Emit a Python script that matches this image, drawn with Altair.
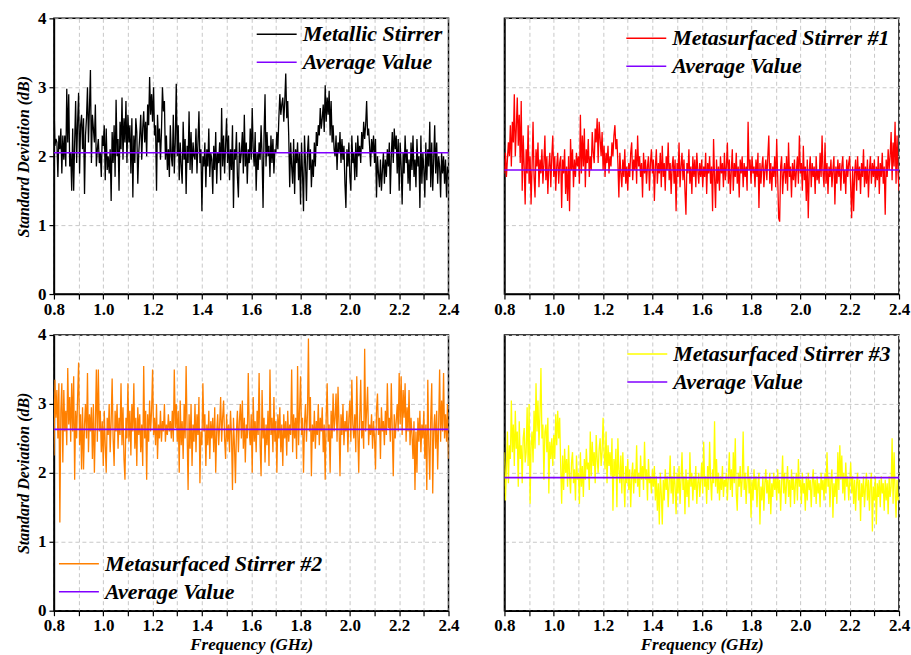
import altair as alt
import pandas as pd

# Frequency sweep: 0.8 GHz to 2.4 GHz, 401 samples (4 MHz step)
F_START, F_STEP, N_PTS = 0.8, 0.004, 401
FREQ = [round(F_START + F_STEP * i, 3) for i in range(N_PTS)]

# Standard deviation of the received power (dB); one row per 100 MHz, last value at 2.4 GHz
METALLIC = [
    2.80, 2.15, 2.25, 2.20, 1.70, 2.30, 2.10, 2.40, 1.75, 2.30, 1.95, 2.30, 1.85, 2.98, 2.20, 2.90, 1.85, 2.05, 1.50, 2.40, 1.50, 2.20, 2.80, 1.90, 2.50,
    2.92, 1.75, 2.45, 2.60, 2.10, 2.55, 1.45, 2.30, 2.55, 3.00, 2.20, 2.70, 3.25, 1.90, 2.60, 2.40, 2.20, 2.75, 1.85, 2.10, 2.25, 1.90, 2.05, 1.70, 2.30,
    2.15, 2.45, 1.65, 2.40, 1.80, 2.00, 1.75, 2.10, 1.35, 2.35, 1.90, 2.45, 1.70, 2.82, 2.00, 2.25, 1.50, 2.50, 2.10, 2.85, 1.95, 2.55, 2.20, 2.80, 1.90,
    2.60, 2.20, 2.45, 1.75, 2.55, 1.40, 2.30, 1.90, 2.55, 2.35, 1.60, 2.05, 2.30, 2.60, 1.95, 2.40, 2.65, 2.20, 2.50, 2.00, 2.75, 2.45, 3.15, 2.60, 2.90,
    2.50, 3.00, 2.30, 2.45, 1.50, 2.60, 2.20, 2.40, 1.95, 2.35, 3.00, 2.65, 2.80, 1.95, 2.30, 1.80, 2.10, 1.70, 2.45, 2.00, 1.85, 2.60, 1.75, 2.20, 3.05,
    2.00, 2.45, 1.65, 2.20, 1.85, 1.60, 2.50, 1.95, 2.25, 1.45, 2.15, 1.90, 2.65, 1.80, 2.35, 1.75, 2.20, 2.00, 1.95, 2.40, 1.75, 2.20, 2.65, 1.90, 2.10,
    1.20, 2.00, 1.85, 2.20, 1.55, 2.10, 1.85, 2.40, 1.70, 2.05, 1.95, 1.45, 2.15, 1.80, 2.35, 1.60, 2.05, 1.90, 2.20, 1.65, 2.70, 1.85, 2.30, 1.75, 2.15,
    2.55, 1.90, 2.30, 1.65, 2.10, 1.80, 2.45, 1.25, 2.10, 1.95, 2.35, 1.70, 1.40, 2.20, 1.90, 2.05, 2.35, 1.75, 2.60, 1.85, 2.20, 1.60, 2.10, 1.90, 2.40,
    1.95, 2.70, 2.10, 1.85, 2.35, 1.50, 2.05, 1.80, 2.20, 1.95, 2.45, 2.00, 1.25, 2.30, 2.90, 1.85, 2.35, 2.00, 2.15, 1.70, 2.30, 1.90, 2.25, 1.75, 2.10,
    2.05, 2.35, 2.10, 2.55, 2.90, 2.60, 2.75, 2.85, 2.50, 2.80, 3.20, 2.55, 2.80, 2.30, 1.55, 2.20, 1.85, 1.60, 2.25, 1.45, 2.10, 1.90, 2.20, 1.65, 2.05,
    1.30, 2.20, 1.75, 1.20, 2.30, 1.90, 1.35, 2.05, 2.30, 1.80, 2.10, 1.55, 1.95, 1.70, 2.20, 1.85, 2.35, 2.15, 2.45, 2.30, 2.70, 2.40, 2.55, 2.75, 2.35,
    3.03, 2.50, 2.85, 2.60, 2.95, 2.30, 2.80, 2.20, 2.45, 2.10, 2.00, 2.30, 1.80, 2.20, 2.05, 2.35, 1.90, 2.25, 1.95, 2.15, 1.60, 1.25, 2.10, 1.85, 2.20,
    1.70, 1.50, 2.30, 1.90, 2.05, 1.65, 2.20, 1.70, 2.30, 2.00, 2.15, 1.90, 2.35, 2.10, 2.50, 2.25, 2.45, 2.80, 2.30, 2.40, 2.15, 1.85, 2.25, 2.05, 2.30,
    1.90, 2.25, 1.40, 2.00, 1.75, 1.55, 1.95, 1.50, 1.80, 2.05, 1.60, 1.95, 1.70, 2.10, 1.85, 2.20, 1.45, 2.00, 2.35, 1.90, 2.40, 2.10, 2.30, 1.75, 2.25,
    1.50, 2.20, 1.85, 1.30, 2.05, 1.75, 2.30, 1.90, 2.10, 1.60, 1.95, 1.50, 2.20, 1.80, 2.30, 1.70, 1.95, 1.55, 2.25, 1.85, 2.00, 1.25, 2.30, 1.60, 2.05,
    1.80, 1.40, 2.20, 1.65, 2.10, 1.85, 2.50, 1.55, 2.20, 1.50, 1.95, 2.45, 1.75, 2.20, 1.60, 2.00, 1.85, 1.40, 2.05, 1.75, 2.00, 1.60, 1.95, 1.40, 1.85,
    1.75,
]
META_1 = [
    1.75, 2.05, 1.70, 1.95, 2.20, 2.00, 2.45, 1.85, 2.50, 2.20, 2.90, 2.00, 2.40, 2.85, 2.15, 2.60, 1.90, 2.80, 1.50, 2.30, 1.85, 1.30, 2.10, 1.75, 2.45,
    1.60, 2.00, 1.30, 1.85, 2.50, 1.70, 1.40, 2.10, 1.85, 2.20, 1.55, 1.95, 1.75, 2.10, 1.60, 1.90, 2.30, 1.65, 2.00, 1.45, 1.85, 2.05, 1.55, 2.00, 2.30,
    1.70, 2.00, 1.50, 1.85, 2.05, 1.60, 1.90, 2.00, 1.25, 1.95, 1.75, 2.10, 1.45, 1.85, 1.35, 2.00, 1.20, 2.25, 1.80, 2.10, 1.55, 1.95, 1.70, 2.05, 1.85,
    2.00, 1.60, 2.60, 1.75, 2.30, 1.85, 2.40, 1.55, 2.10, 1.90, 2.25, 1.70, 2.00, 1.80, 2.35, 2.05, 1.90, 2.40, 2.20, 2.55, 1.90, 2.50, 2.25, 2.00, 2.35,
    1.80, 2.15, 1.70, 2.05, 1.90, 2.15, 1.75, 2.00, 1.85, 2.20, 2.00, 2.30, 2.45, 2.10, 2.25, 1.90, 1.40, 2.05, 1.75, 1.55, 1.95, 1.70, 2.10, 1.60, 1.85,
    1.50, 1.90, 1.70, 2.05, 2.20, 1.65, 1.95, 1.80, 2.10, 1.60, 2.30, 1.85, 2.00, 1.70, 1.90, 1.40, 2.05, 1.75, 1.95, 1.60, 1.85, 2.00, 1.50, 1.90, 2.10,
    1.75, 1.95, 1.35, 1.85, 2.10, 1.60, 1.90, 1.75, 2.05, 1.55, 2.15, 1.70, 1.90, 1.50, 2.00, 1.80, 2.20, 1.65, 1.90, 1.45, 1.85, 2.00, 1.60, 1.95, 1.20,
    1.90, 1.70, 2.20, 1.55, 1.85, 2.05, 1.65, 1.95, 1.50, 1.15, 1.90, 1.75, 2.10, 1.60, 1.85, 1.45, 2.00, 1.70, 1.95, 1.55, 2.05, 1.80, 1.60, 1.90, 1.70,
    1.95, 1.55, 1.85, 1.70, 2.05, 1.45, 1.90, 1.75, 2.00, 1.60, 1.85, 1.20, 2.25, 1.70, 1.25, 1.95, 1.60, 1.85, 1.50, 2.00, 1.75, 1.90, 1.55, 2.05, 1.65,
    1.85, 2.20, 1.60, 1.95, 1.45, 1.80, 2.10, 1.50, 1.90, 1.70, 2.05, 1.60, 1.85, 1.40, 1.95, 1.75, 2.00, 1.55, 1.90, 1.70, 1.85, 1.50, 2.50, 1.80, 1.95,
    1.60, 2.00, 1.75, 1.85, 1.55, 1.95, 1.70, 2.05, 1.25, 1.90, 1.60, 1.85, 2.00, 1.55, 1.80, 1.95, 1.65, 2.00, 2.30, 1.60, 1.90, 1.50, 1.85, 1.70, 2.00,
    1.55, 2.25, 1.70, 1.10, 1.05, 1.85, 2.00, 1.45, 1.75, 1.90, 1.60, 2.00, 1.50, 2.20, 1.70, 1.85, 1.40, 1.90, 1.65, 1.95, 1.55, 1.80, 2.00, 1.60, 2.30,
    1.75, 1.90, 1.50, 2.15, 1.65, 1.85, 1.35, 1.95, 1.10, 1.80, 2.00, 1.55, 1.90, 1.70, 1.85, 1.45, 2.00, 1.65, 1.80, 1.60, 2.05, 1.70, 2.30, 1.75, 1.55,
    2.20, 1.60, 1.90, 1.45, 1.85, 1.70, 1.95, 1.55, 1.80, 2.00, 1.30, 1.85, 1.60, 1.95, 1.70, 1.90, 1.50, 1.85, 2.00, 1.60, 1.80, 1.45, 1.95, 1.70, 1.90,
    2.00, 1.55, 1.10, 1.85, 1.20, 1.75, 1.95, 1.50, 2.00, 1.65, 1.85, 1.45, 1.90, 1.70, 2.10, 1.55, 1.85, 1.60, 1.95, 1.40, 1.80, 2.00, 1.60, 1.90, 1.70,
    1.95, 1.55, 1.85, 1.65, 2.00, 1.45, 1.90, 1.70, 2.05, 1.60, 1.85, 1.15, 1.95, 1.70, 2.10, 1.80, 2.00, 2.35, 1.65, 2.20, 1.85, 2.50, 1.60, 2.30, 1.75,
    1.50,
]
META_2 = [
    2.25, 3.35, 2.80, 3.20, 2.50, 3.30, 1.28, 2.90, 3.30, 2.15, 3.20, 2.60, 2.90, 2.40, 3.52, 2.70, 3.10, 2.45, 3.30, 2.60, 3.40, 1.90, 2.90, 2.50, 3.10,
    3.60, 2.40, 2.85, 2.05, 2.95, 2.05, 2.70, 3.00, 2.50, 3.45, 2.30, 2.85, 2.60, 2.95, 2.20, 3.00, 2.00, 2.70, 3.50, 2.45, 3.50, 2.60, 2.90, 2.30, 2.75,
    2.10, 2.90, 2.40, 2.00, 2.80, 2.55, 3.00, 2.30, 2.75, 3.37, 2.50, 2.10, 2.90, 2.60, 3.00, 2.35, 2.80, 2.55, 3.30, 2.40, 2.95, 2.20, 1.90, 2.80, 2.50,
    3.30, 2.45, 2.90, 2.25, 3.00, 2.60, 3.30, 2.35, 2.80, 2.10, 2.95, 2.55, 2.85, 2.30, 2.70, 2.10, 3.55, 2.50, 2.90, 1.90, 2.85, 2.45, 3.05, 2.60, 2.90,
    3.50, 2.55, 2.80, 2.40, 3.00, 2.20, 2.70, 2.50, 2.90, 2.45, 2.75, 2.60, 3.00, 2.45, 2.70, 2.55, 2.85, 2.60, 2.75, 2.50, 2.90, 2.45, 3.50, 2.65, 3.00,
    2.45, 2.90, 2.00, 3.05, 2.40, 2.75, 2.20, 3.00, 2.50, 3.55, 2.60, 1.75, 2.85, 2.35, 3.00, 2.10, 2.70, 2.45, 3.00, 2.30, 2.85, 2.55, 3.10, 1.85, 2.60,
    2.40, 3.30, 2.60, 2.85, 2.10, 2.70, 2.40, 2.90, 2.20, 2.75, 2.50, 2.80, 2.30, 2.95, 2.00, 2.60, 2.85, 2.40, 2.70, 3.10, 2.45, 2.80, 3.05, 2.50, 2.20,
    2.85, 2.45, 2.70, 2.30, 2.90, 2.55, 1.75, 2.80, 2.40, 1.85, 2.60, 2.90, 2.30, 2.75, 3.00, 2.50, 3.05, 2.35, 2.80, 2.15, 2.70, 2.50, 3.45, 2.60, 2.40,
    2.85, 2.00, 3.10, 2.45, 2.75, 2.30, 2.90, 2.55, 3.45, 2.40, 1.95, 3.20, 2.50, 2.80, 2.15, 2.70, 2.40, 2.90, 2.10, 3.50, 2.55, 2.80, 2.30, 3.10, 2.45,
    2.75, 2.00, 2.85, 2.50, 2.95, 2.30, 2.70, 2.10, 2.85, 2.50, 2.75, 2.25, 2.90, 2.45, 2.70, 2.55, 3.50, 2.30, 2.85, 2.50, 2.80, 2.20, 3.55, 2.40, 2.90,
    3.40, 2.55, 2.80, 2.00, 2.70, 3.00, 2.45, 2.85, 3.95, 2.60, 3.10, 1.95, 2.70, 2.45, 2.90, 2.35, 2.75, 2.55, 3.00, 2.40, 2.80, 2.60, 2.95, 2.30, 2.70,
    1.90, 2.80, 3.30, 2.45, 2.70, 2.00, 2.90, 2.50, 3.15, 2.60, 2.80, 3.15, 2.45, 3.25, 2.70, 1.95, 2.85, 2.55, 3.00, 2.40, 2.75, 2.60, 2.90, 2.30, 2.80,
    3.05, 2.45, 3.35, 2.70, 2.50, 2.85, 2.30, 3.40, 2.60, 2.00, 2.80, 3.35, 2.50, 2.75, 2.35, 3.80, 2.60, 2.90, 3.25, 2.40, 2.70, 2.55, 2.85, 2.35, 2.75,
    2.50, 2.05, 2.90, 3.15, 2.55, 2.80, 2.20, 2.95, 2.60, 2.75, 2.40, 2.90, 2.55, 3.30, 2.65, 2.80, 2.45, 3.30, 2.60, 1.95, 2.85, 2.50, 2.75, 3.00, 2.60,
    3.45, 2.70, 3.40, 2.55, 3.20, 2.80, 3.30, 2.45, 2.95, 2.60, 3.20, 2.40, 2.80, 2.55, 2.20, 2.75, 1.75, 2.60, 2.00, 2.80, 2.45, 2.90, 2.30, 2.70, 2.50,
    2.90, 2.20, 2.70, 1.75, 3.35, 2.40, 1.90, 2.80, 3.30, 1.70, 2.60, 2.85, 2.35, 2.90, 2.05, 2.70, 3.50, 2.45, 3.05, 2.60, 3.45, 2.50, 2.85, 2.45, 3.00,
    2.20,
]
META_3 = [
    2.30, 1.60, 2.05, 2.60, 1.85, 2.40, 2.20, 3.05, 2.30, 2.70, 2.10, 2.90, 2.35, 2.60, 1.80, 2.75, 2.20, 2.40, 1.85, 2.50, 2.65, 2.15, 2.30, 2.95, 2.10,
    3.00, 1.55, 2.40, 2.60, 2.15, 2.90, 2.35, 3.30, 2.60, 3.05, 2.40, 2.85, 3.52, 2.50, 2.70, 1.90, 2.60, 2.70, 2.30, 2.80, 1.70, 2.45, 2.20, 2.50, 2.10,
    2.55, 2.20, 2.85, 2.40, 2.90, 2.50, 2.80, 2.10, 1.55, 2.25, 1.75, 2.35, 2.00, 2.20, 1.80, 2.40, 1.95, 1.70, 2.15, 2.30, 1.85, 2.05, 1.60, 2.25, 1.90,
    2.00, 1.55, 2.30, 1.80, 2.10, 1.65, 2.20, 1.90, 2.35, 2.05, 2.15, 1.75, 2.60, 1.95, 2.45, 2.10, 2.30, 1.85, 2.55, 2.20, 2.00, 2.35, 2.50, 2.10, 2.30,
    2.80, 2.30, 2.05, 2.60, 1.85, 2.40, 2.10, 2.30, 1.95, 2.50, 1.45, 2.20, 1.95, 2.35, 1.50, 2.50, 2.05, 1.85, 2.25, 1.70, 2.30, 1.90, 1.50, 2.10, 1.85,
    2.20, 1.75, 2.05, 1.50, 1.95, 2.15, 1.70, 2.05, 1.85, 2.40, 1.80, 2.00, 1.65, 2.25, 1.90, 2.10, 1.75, 2.45, 1.90, 2.05, 1.60, 2.20, 1.85, 1.95, 1.70,
    2.05, 1.80, 2.10, 1.60, 1.95, 1.45, 1.85, 1.25, 2.00, 1.70, 1.25, 1.90, 1.60, 2.05, 1.75, 1.95, 1.50, 1.85, 2.25, 1.70, 1.95, 1.55, 2.10, 1.80, 1.40,
    2.00, 1.70, 2.10, 1.55, 1.90, 2.30, 1.75, 1.95, 1.40, 2.05, 1.65, 1.90, 1.50, 2.30, 1.80, 2.00, 1.60, 1.95, 1.75, 2.10, 1.55, 1.85, 2.00, 1.65, 1.90,
    2.15, 1.70, 2.45, 1.80, 1.95, 1.55, 2.10, 1.75, 2.45, 1.90, 1.60, 2.05, 1.85, 2.75, 1.80, 2.20, 1.70, 2.00, 1.60, 1.95, 1.75, 2.10, 1.65, 1.90, 1.80,
    2.00, 1.60, 1.95, 2.30, 1.75, 2.05, 1.65, 2.30, 1.85, 2.50, 1.70, 1.45, 2.00, 1.80, 2.10, 1.65, 1.90, 2.60, 1.75, 2.00, 1.55, 1.90, 2.10, 1.70, 1.95,
    1.35, 1.90, 1.60, 2.05, 1.75, 1.95, 1.50, 1.85, 2.00, 1.25, 1.80, 1.60, 1.95, 1.45, 1.85, 2.05, 1.70, 1.90, 1.55, 2.00, 1.40, 1.85, 1.65, 2.00, 1.75,
    1.95, 1.60, 2.05, 1.70, 1.90, 1.45, 1.85, 2.25, 1.70, 2.00, 1.55, 1.85, 2.10, 1.65, 1.90, 1.50, 2.05, 1.75, 1.95, 1.55, 1.85, 2.00, 1.60, 2.20, 1.80,
    1.90, 1.55, 2.00, 1.70, 1.85, 1.45, 1.95, 1.60, 2.00, 1.75, 1.90, 1.50, 1.85, 2.05, 1.65, 1.90, 1.55, 1.95, 1.70, 1.85, 1.50, 2.00, 1.75, 1.90, 1.60,
    2.00, 1.70, 2.30, 1.80, 1.95, 1.50, 1.90, 2.05, 1.35, 1.85, 1.65, 1.95, 1.55, 2.30, 1.75, 2.40, 1.90, 2.25, 1.70, 2.00, 1.60, 2.15, 1.80, 1.95, 1.60,
    1.85, 2.15, 1.70, 1.95, 1.55, 1.90, 1.45, 1.85, 2.00, 1.60, 1.90, 1.30, 1.85, 1.65, 1.95, 1.50, 1.80, 2.00, 1.60, 1.90, 1.45, 1.85, 2.00, 1.15, 1.80,
    1.60, 1.95, 1.25, 1.85, 1.65, 1.90, 1.50, 1.95, 1.70, 1.85, 1.45, 1.90, 1.60, 1.85, 1.40, 1.95, 1.65, 1.80, 2.50, 1.55, 2.30, 1.75, 1.35, 1.90, 1.60,
    1.65,
]

SERIES_NAMES = ["Metallic Stirrer", "Metasurfaced Stirrer #1", "Metasurfaced Stirrer #2", "Metasurfaced Stirrer #3"]
SERIES_COLORS = ["#000000", "#ff0000", "#ff8000", "#ffff00"]
AVERAGES = [2.05, 1.80, 2.63, 1.93]
AVG_LABEL = "Average Value"
AVG_COLOR = "#8000ff"

X_TICKS = [0.8, 0.9, 1.0, 1.1, 1.2, 1.3, 1.4, 1.5, 1.6, 1.7, 1.8, 1.9, 2.0, 2.1, 2.2, 2.3, 2.4]
Y_TICKS = [0, 0.5, 1, 1.5, 2, 2.5, 3, 3.5, 4]

SERIF = "Liberation Serif, Times New Roman, serif"
GRID = dict(grid=True, gridColor="#c8c8c8", gridDash=[4, 3], gridWidth=1)

# Legend key: a horizontal stroke twice as wide as the nominal symbol box,
# so the entries stay compact while the key line is 40 px long.
KEY_PATH = "M-2,0H2"
KEY_SIZE = 400


def x_axis(with_title):
    return alt.Axis(
        values=X_TICKS,
        labelExpr="round(datum.value * 10) % 2 == 0 ? format(datum.value, '.1f') : ''",
        title="Frequency (GHz)" if with_title else None,
        titleFont=SERIF, titleFontSize=17, titleFontWeight="bold", titleFontStyle="italic",
        titleColor="black", titlePadding=3,
        labelFont=SERIF, labelFontSize=17, labelFontWeight="bold", labelColor="black",
        labelFlush=False, labelOverlap=False, labelPadding=2,
        tickColor="black", tickSize=5, tickWidth=1.2,
        domainColor="black", domainWidth=1.5,
        **GRID,
    )


def y_axis(with_labels):
    if with_labels:
        return alt.Axis(
            values=Y_TICKS,
            labelExpr="datum.value % 1 == 0 ? format(datum.value, 'd') : ''",
            title="Standard Deviation (dB)",
            titleFont=SERIF, titleFontSize=16, titleFontWeight="bold", titleFontStyle="italic",
            titleColor="black", titlePadding=6,
            labelFont=SERIF, labelFontSize=17, labelFontWeight="bold", labelColor="black",
            labelFlush=False, labelOverlap=False, labelPadding=3,
            tickColor="black", tickSize=5, tickWidth=1.2,
            domainColor="black", domainWidth=1.5,
            **GRID,
        )
    return alt.Axis(values=Y_TICKS, labels=False, ticks=False, title=None,
                    domainColor="black", domainWidth=1.5, **GRID)


def panel(values, name, color, avg, legend_xy, left, bottom):
    trace = pd.DataFrame({"freq": FREQ, "std": values, "series": name})
    mean = pd.DataFrame({"std": [avg], "series": [AVG_LABEL]})

    color_enc = alt.Color(
        "series:N",
        scale=alt.Scale(domain=[name, AVG_LABEL], range=[color, AVG_COLOR]),
        legend=alt.Legend(
            title=None, orient="none", legendX=legend_xy[0], legendY=legend_xy[1], padding=0,
            symbolType=KEY_PATH, symbolSize=KEY_SIZE, symbolStrokeWidth=1.6,
            labelFont=SERIF, labelFontSize=22, labelFontWeight="bold",
            labelFontStyle="italic", labelColor="black", labelLimit=400,
            labelOffset=15, rowPadding=6,
        ),
    )
    y_scale = alt.Scale(domain=[0, 4], nice=False, zero=False)

    line = alt.Chart(trace).mark_line(strokeWidth=1.3, clip=True).encode(
        x=alt.X("freq:Q", scale=alt.Scale(domain=[0.8, 2.4], nice=False, zero=False),
                axis=x_axis(bottom)),
        y=alt.Y("std:Q", scale=y_scale, axis=y_axis(left)),
        color=color_enc,
    )
    rule = alt.Chart(mean).mark_rule(strokeWidth=1.6).encode(
        y=alt.Y("std:Q", scale=y_scale),
        color=alt.Color("series:N"),
    )
    return alt.layer(line, rule).properties(width=395, height=276)


p1 = panel(METALLIC, SERIES_NAMES[0], SERIES_COLORS[0], AVERAGES[0], (212, 5), True, False)
p2 = panel(META_1, SERIES_NAMES[1], SERIES_COLORS[1], AVERAGES[1], (131, 9), False, False)
p3 = panel(META_2, SERIES_NAMES[2], SERIES_COLORS[2], AVERAGES[2], (14, 218), True, True)
p4 = panel(META_3, SERIES_NAMES[3], SERIES_COLORS[3], AVERAGES[3], (132, 8), False, True)

top = alt.hconcat(p1, p2, spacing=32).resolve_scale(color="independent").resolve_legend(color="independent")
bottom = alt.hconcat(p3, p4, spacing=32).resolve_scale(color="independent").resolve_legend(color="independent")

chart = (
    alt.vconcat(top, bottom, spacing=7)
    .resolve_scale(color="independent")
    .resolve_legend(color="independent")
    .properties(padding={"left": 14, "top": 8, "right": 0, "bottom": 0}, background="white")
    .configure_view(stroke="black", strokeWidth=1.5)
)

chart.save("out.html", embed_options={"renderer": "svg", "actions": False})
